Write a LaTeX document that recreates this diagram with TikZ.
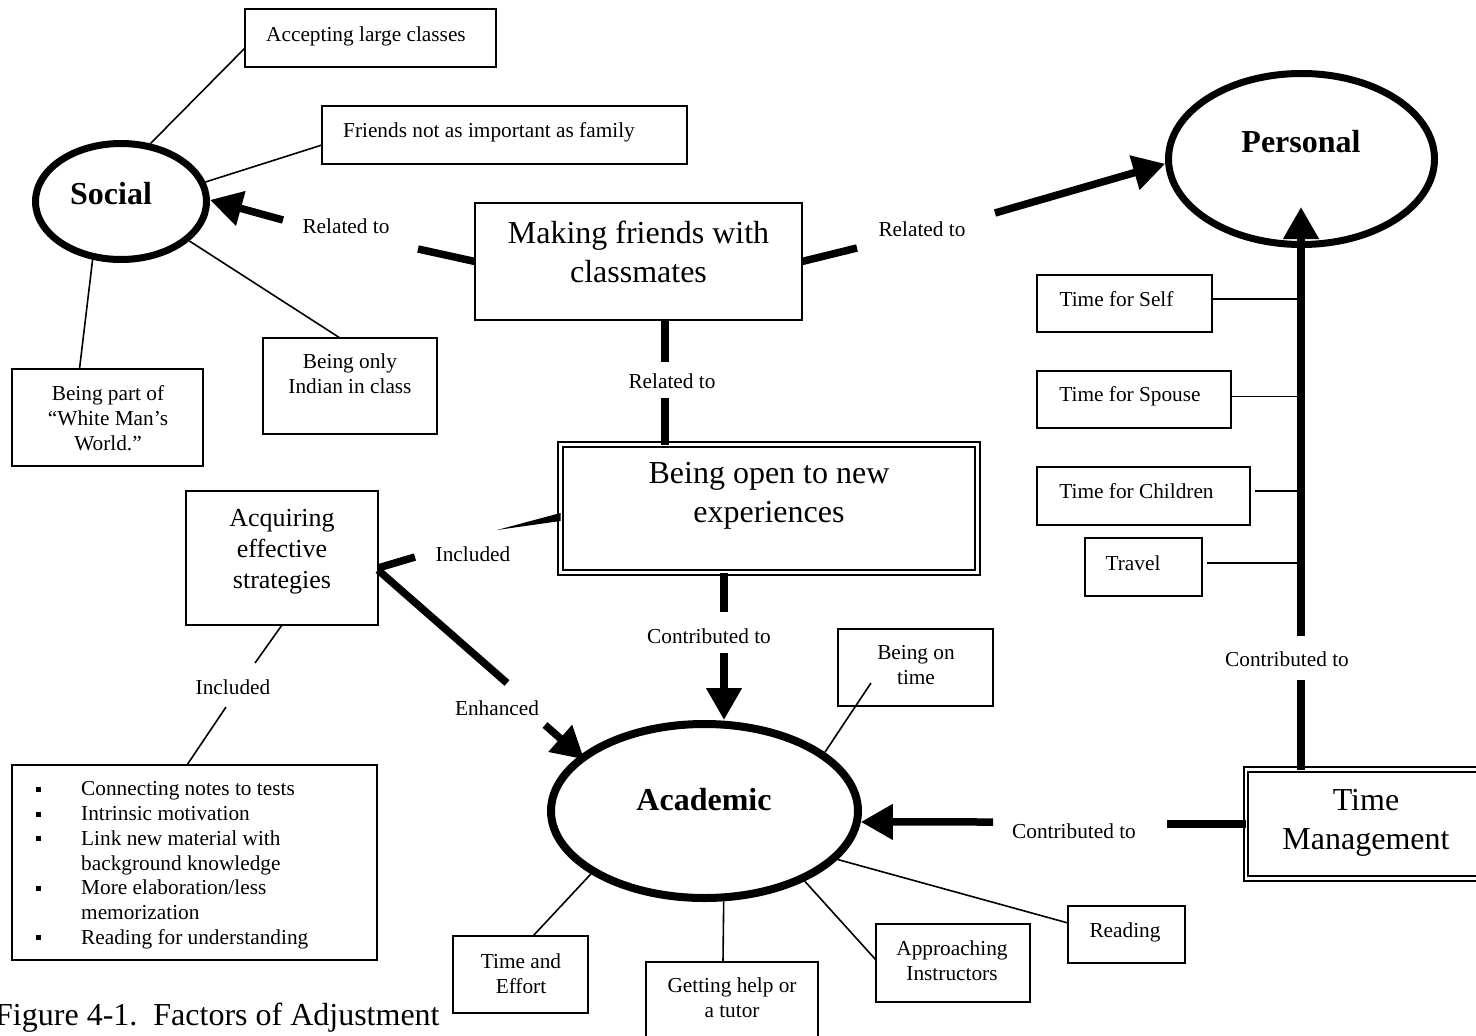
\documentclass[tikz,border=0pt]{standalone}
\usepackage{fontspec}
\setmainfont{Liberation Serif}
\usetikzlibrary{shapes.geometric,arrows.meta,calc}
\newcommand{\sqbullet}{\rule[4pt]{5pt}{5pt}}
\begin{document}
\begin{tikzpicture}[x=1pt,y=-1pt,
  box/.style={draw, line width=2pt, inner sep=0pt, outer sep=0pt, fill=white},
  dbox/.style={draw, line width=2.2pt, double=white, double distance=2.5pt, inner sep=0pt, outer sep=0pt},
  oval/.style={ellipse, draw, inner sep=0pt},
  txtS/.style={font=\fontsize{21.3}{25}\selectfont, align=center, inner sep=0pt},
  txtM/.style={font=\fontsize{26}{31}\selectfont, align=center, inner sep=0pt},
  txtL/.style={font=\fontsize{32}{39}\selectfont, align=center, inner sep=0pt},
  heading/.style={font=\fontsize{32}{38}\selectfont\bfseries, inner sep=0pt},
  rel/.style={line width=7.5pt},
  leg/.style={line width=1.6pt},
  bigtip/.style={-{Triangle[length=32pt,width=34pt]}},
]
\useasboundingbox (0,0) rectangle (1476,1036);
\fill[white] (0,0) rectangle (1476,1036);

% ---- main ovals ----
\node[oval, line width=7pt, minimum width=171pt, minimum height=116pt] (soc) at (121,201.5) {};
\node[heading] (tsoc) at (111,194) {Social};
\node[oval, line width=7pt, minimum width=266pt, minimum height=171pt] (pers) at (1301.5,159) {};
\node[heading] (tpers) at (1301,142) {Personal};
\node[oval, line width=8pt, minimum width=307pt, minimum height=174pt] (aca) at (704.5,811) {};
\node[heading] (taca) at (704,800) {Academic};

% ---- social factors ----
\node[box, minimum width=251pt, minimum height=58pt] (acc) at (370.5,38) {};
\node[txtS] (tacc) at (366,36) {Accepting large classes};
\node[box, minimum width=365pt, minimum height=58pt] (friends) at (504.5,135) {};
\node[txtS] (tfriends) at (489,132) {Friends not as important as family};
\node[box, minimum width=191pt, minimum height=97pt] (partof) at (107.5,417.5) {};
\node[txtS] (tpartof) at (108,418) {Being part of\\“White Man’s\\World.”};
\node[box, minimum width=174pt, minimum height=96pt] (only) at (350,386) {};
\node[txtS] (tonly) at (350,373.5) {Being only\\Indian in class};

% ---- central boxes ----
\node[box, minimum width=327pt, minimum height=117pt] (making) at (638.5,261.5) {};
\node[txtL] (tmaking) at (638.5,252) {Making friends with\\classmates};
\node[dbox, minimum width=417pt, minimum height=128pt] (open) at (769,508.5) {};
\node[txtL] (topen) at (769,496) {Being open to new\\experiences};
\node[box, minimum width=192pt, minimum height=134pt] (acq) at (282,558) {};
\node[txtM] (tacq) at (282,552) {Acquiring\\effective\\strategies};

% ---- strategy list ----
\node[box, minimum width=365pt, minimum height=195pt] (list) at (194.5,862.5) {};
\node[anchor=north west, inner sep=0pt, font=\fontsize{21.3}{24.7}\selectfont] (titems) at (35.5,778.5)
 {\begin{tabular}{@{}p{45.5pt}@{}l@{}}
  \sqbullet & Connecting notes to tests\\
  \sqbullet & Intrinsic motivation\\
  \sqbullet & Link new material with\\
            & background knowledge\\
  \sqbullet & More elaboration/less\\
            & memorization\\
  \sqbullet & Reading for understanding
 \end{tabular}};

% ---- academic factors ----
\node[box, minimum width=155pt, minimum height=77pt] (ontime) at (915.5,667.5) {};
\node[txtS] (tontime) at (916,665.5) {Being on\\time};
\node[box, minimum width=135pt, minimum height=77pt] (effort) at (520.5,974.5) {};
\node[txtS] (teffort) at (521,973.5) {Time and\\Effort};
\node[box, minimum width=172pt, minimum height=80pt] (help) at (732,1002) {};
\node[txtS] (thelp) at (732,997.5) {Getting help or\\a tutor};
\node[box, minimum width=154pt, minimum height=78pt] (appr) at (953,963) {};
\node[txtS] (tappr) at (952,960.5) {Approaching\\Instructors};
\node[box, minimum width=117pt, minimum height=57pt] (read) at (1126.5,934.5) {};
\node[txtS] (tread) at (1125,932) {Reading};

% ---- time management and personal factors ----
\node[dbox, minimum width=240pt, minimum height=109pt] (tm) at (1366,824) {};
\node[txtL] (ttm) at (1366,823) {Time\\Management};
\node[box, minimum width=175pt, minimum height=57pt] (self) at (1124.5,303.5) {};
\node[txtS] (tself) at (1116.5,299) {Time for Self};
\node[box, minimum width=194pt, minimum height=57pt] (spouse) at (1134,399.5) {};
\node[txtS] (tspouse) at (1130,396.5) {Time for Spouse};
\node[box, minimum width=213pt, minimum height=58pt] (child) at (1143.5,496) {};
\node[txtS] (tchild) at (1136.5,491) {Time for Children};
\node[box, minimum width=117pt, minimum height=58pt] (travel) at (1143.5,567) {};
\node[txtS] (ttravel) at (1133,563) {Travel};

% ---- relation labels ----
\node[txtS] (l1) at (346,226) {Related to};
\node[txtS] (l2) at (922,229) {Related to};
\node[txtS] (l3) at (672,381) {Related to};
\node[txtS] (l4) at (473,554) {Included};
\node[txtS] (l5) at (497,708) {Enhanced};
\node[txtS] (l6) at (233,687) {Included};
\node[txtS] (l7) at (709,636) {Contributed to};
\node[txtS] (l8) at (1074,831) {Contributed to};
\node[txtS] (l9) at (1287,659) {Contributed to};

% ---- free ends of the broken connectors ----
\coordinate (r1a) at (418,249);
\coordinate (r1b) at (283,220);
\coordinate (r2a) at (857,248);
\coordinate (r2b) at (995,213);
\coordinate (r3a) at (665,362);
\coordinate (r3b) at (665,398);
\coordinate (i1a) at (497,530);
\coordinate (i1b) at (415,557);
\coordinate (e1a) at (507,683);
\coordinate (e1b) at (545,725);
\coordinate (i2a) at (255,663);
\coordinate (i2b) at (226,707);
\coordinate (c1a) at (724,612);
\coordinate (c1b) at (724,653);
\coordinate (c2a) at (1167,824);
\coordinate (c2b) at (993,822);
\coordinate (c3a) at (1301,680);
\coordinate (c3b) at (1301,636);
\coordinate (ptip) at ($(c3b |- pers.center)+(0,48)$);
\coordinate (ot) at (871,683);

% ---- social spokes ----
\draw[leg] (soc.63) -- ($(acc.west)+(0,10)$);
\draw[leg] (soc.13) -- ($(friends.west)+(0,10)$);
\draw[leg] (soc.-30) -- ($(only.north)+(-10,0)$);
\draw[leg] (soc.-116) -- ($(partof.north)+(-28,0)$);

% ---- making friends relations ----
\draw[rel] (making.west) -- (r1a);
\draw[rel, bigtip] (r1b) -- (soc.1);
\draw[rel] (making.east) -- (r2a);
\draw[rel, bigtip] (r2b) -- (pers.182);
\draw[rel] ($(making.south)+(26.5,0)$) -- (r3a);
\draw[rel] (r3b) -- (r3b |- open.north);

% ---- strategies ----
\fill ($(open.west)+(0,4.5)$) -- ($(open.west)+(0,12.5)$) -- (i1a) -- cycle;
\draw[rel] (i1b) -- ($(acq.east)+(0,10)$);
\draw[rel] ($(acq.east)+(0,12)$) -- (e1a);
\draw[rel, bigtip, shorten >=-6pt] (e1b) -- (aca.156);
\draw[leg] (acq.south) -- (i2a);
\draw[leg] (i2b) -- ($(list.north)+(-7.5,0)$);

% ---- contributions to academic ----
\draw[rel] ($(open.south)+(-45,0)$) -- (c1a);
\draw[rel, bigtip] (c1b) -- (c1b |- aca.north);
\draw[rel] (tm.west) -- (c2a);
\draw[rel, bigtip] (c2b) -- (aca.-4);

% ---- academic spokes ----
\draw[leg] (aca.26.5) -- (ot);
\draw[leg] (aca.209) -- ($(effort.north)+(12.5,0)$);
\draw[leg] (aca.-78.5) -- ($(help.north)+(-9,0)$);
\draw[leg] (aca.-35.6) -- ($(appr.west)+(0,-3)$);
\draw[leg] (aca.-20.3) -- ($(read.west)+(0,-11.5)$);

% ---- time management to personal ----
\draw[rel] ($(tm.north)+(-65,0)$) -- (c3a);
\draw[rel, bigtip] (c3b) -- (ptip);
\draw[leg] (self.east |- tself) -- (c3b |- tself);
\draw[leg] (spouse.east |- tspouse) -- (c3b |- tspouse);
\draw[leg] ($(child.east |- tchild)+(5,0)$) -- (c3b |- tchild);
\draw[leg] ($(travel.east |- ttravel)+(5,0)$) -- (c3b |- ttravel);

% ---- caption ----
\node[anchor=base west, inner sep=0pt, font=\fontsize{32}{38}\selectfont] (cap) at (-5,1025)
 {Figure 4-1.\hspace{16pt}Factors of Adjustment};
\end{tikzpicture}
\end{document}
